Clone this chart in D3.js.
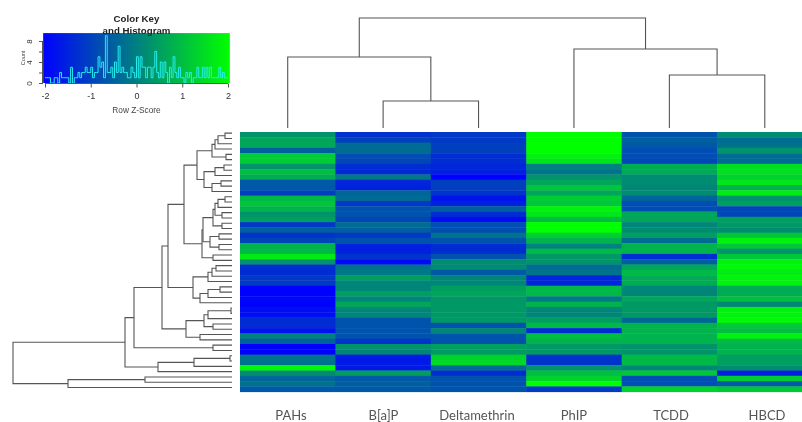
<!DOCTYPE html>
<html><head><meta charset="utf-8">
<script src="https://cdn.jsdelivr.net/npm/d3@7"></script>
<style>
html,body{margin:0;padding:0;background:#fff;overflow:hidden}
svg{display:block;filter:blur(0.4px)}
</style></head><body>
<svg id="c" width="802" height="422"></svg>
<script>
const samples = ["PAHs","B[a]P","Deltamethrin","PhIP","TCDD","HBCD"];
const PAHs = [0.3,0.6,0.6,-0.5,1.2,1.2,0.3,1.0,0.7,-0.6,-0.6,-1.0,0.9,1.1,0.8,0.3,0.5,-1.1,-0.5,-1.2,-0.9,0.8,0.9,1.7,0.3,-1.3,-1.3,-1.1,-1.1,-2,-2,-1.9,-2,-1.8,-1.8,-1.3,-1.3,-1.7,0,-0.5,-2,-2,-0.2,-0.2,1.9,0.2,-0.4,-0.2,-0.6];
const BaP = [-1.2,-1.0,-0.3,-0.3,-0.8,-0.9,-1.3,-1.4,-0.1,-1.4,-1.5,-0.4,-0.3,-1.1,-0.7,-0.7,-0.9,-0.3,-0.5,-1.1,-0.7,-1.5,-1.5,-1.2,-1.9,-0.2,-0.1,0.5,0.1,0.1,0.5,0.1,0.6,0.1,0.1,-0.7,-0.7,-0.7,-0.7,-1.2,0.3,0.1,-1.6,-1.6,-1.6,0.5,-0.6,-0.5,-0.6];
const Deltamethrin = [-1.1,-1.1,-1.0,-1.0,-1.3,-1.3,-1.4,-1.5,-2,-1.0,-1.0,-1.2,-1.7,-1.5,-0.5,-1.3,-1.8,-0.8,-0.8,-0.2,-0.7,-1.3,-1.3,-0.7,0.2,0.2,-0.6,0.1,0.1,0.5,0.6,0.4,0.4,0.4,0.4,0.4,-0.7,0.1,-0.7,-0.7,0.5,0.4,1.3,1.4,-0.3,-1.3,-0.7,-0.7,-0.7];
const PhIP = [2,2,2,2,1.8,1.6,0,-0.2,0.3,0.6,1.1,0.6,1.2,1.1,1.8,1.6,1.0,2,2,1.2,0.8,0,0.9,0.4,0.3,-0.3,-0.2,-1.4,-1.4,0.9,0.9,-0.1,0.8,0.1,0.1,0.5,0.9,-1.3,1,0.8,0.4,0.4,-1.2,-1.2,0.3,1.0,1.3,2,-1.1];
const TCDD = [-0.7,-0.5,-0.6,-0.8,-0.8,-0.9,0.7,0.7,0.2,0.2,0.1,0.2,-0.4,-0.8,-0.8,0.6,0.6,0.1,0.2,0.5,-0.3,0.8,0.8,-1.3,-0.5,0.6,0.9,0.7,0.7,0.1,0.1,0.6,0.4,0.4,0.4,-0.4,0.8,0.8,0.8,0.8,0.3,0.3,0.9,0.9,0.1,1.1,-0.8,-0.8,1.3];
const HBCD = [0.2,-0.3,-0.2,0.3,-0.3,-0.3,1.5,1.5,1.3,1.6,0.8,1.7,0.3,0.5,-0.9,-0.9,0.5,0.4,0.2,1.1,1.8,1.1,0.3,1.1,1.8,1.9,1.7,1.8,1.8,0.7,0.7,1.0,0.1,1.8,1.8,1.9,1.1,1.0,1.8,0.9,0.8,0.8,0.5,0.5,0.2,-1.5,1.2,-0.6,1.1];
const histCounts = [1,1,1,0,0,1,1,0,2,1,1,1,1,0,3,0,1,1,2,1,2,2,3,2,2,3,1,2,2,5,3,4,1,9,2,2,3,1,4,2,7,2,3,2,2,1,1,3,2,1,5,1,5,3,3,1,3,3,1,3,6,2,1,4,1,4,2,0,3,1,5,2,1,3,1,1,0,2,1,2,0,1,1,3,1,1,3,1,3,1,3,1,1,1,1,3,1,2,1,1];
const colTree = [1.10,[0.71,0,[0.27,1,2]],[0.79,3,[0.53,4,5]]];
const rowTree = [21.9,
 [10.7,
  [9.8,
   [7.0,
    [6.4,
     [4.8,
      [3.5,
       [2.0,[1.7,[1.4,[0.7,0,1],2],3],[0.6,4,5]],
       [2.8,[1.7,[0.8,6,7],8],[2.0,[1.1,9,10],11]]],
      [3.0,
       [2.9,
        [1.9,[1.7,[1.4,[0.7,12,13],14],[1.0,15,16]],[1.0,17,18]],
        [2.2,[1.3,19,20],[1.3,21,22]]],
       [1.9,23,24]]],
     [3.9,
      [2.4,[2.0,[1.6,25,26],27],28],
      [3.2,[2.4,[1.2,29,30],31],32]]],
    [4.6,
     [2.8,[2.4,[0.1,33,34],35],[1.9,36,37]],
     [3.2,38,39]]],
   [1.9,40,41]],
  [7.4,[3.8,[0.2,42,43],44],45]],
 [16.4,[8.7,46,47],48]];
const keyTicksX = [-2,-1,0,1,2];
const keyTicksY = [0,2,4,6,8];
const keyLabelsY = [0,4,8];

const matrix = [PAHs,BaP,Deltamethrin,PhIP,TCDD,HBCD];
const nRows = PAHs.length;
const svg = d3.select("#c");
const color = d3.scaleLinear().domain([-2,2]).range(["#0000ff","#00ff00"]).interpolate(d3.interpolateRgb).clamp(true);

// heatmap
const xBand = d3.scaleBand().domain(d3.range(samples.length)).range([240,812.5]);
const yBand = d3.scaleBand().domain(d3.range(nRows)).range([132,391.7]);
const heat = svg.append("g");
matrix.forEach((col,c)=>{
  heat.selectAll(null).data(col).enter().append("rect")
    .attr("x",xBand(c)).attr("width",Math.ceil(xBand.bandwidth()))
    .attr("y",(d,r)=>yBand(r)).attr("height",yBand.bandwidth()+0.4)
    .attr("fill",d=>color(d));
});

// column labels
svg.append("g").selectAll("text").data(samples).enter().append("text")
  .attr("x",(d,i)=>[291,383.5,477,574,671,767][i]).attr("y",419.5)
  .attr("text-anchor","middle").attr("font-family","Lato, 'Open Sans', sans-serif")
  .attr("font-size",13).attr("fill","#555").text(d=>d);

// dendrograms
function hierarchy(t){
  return d3.hierarchy(t,d=>Array.isArray(d)?d.slice(1):null);
}
function drawDendro(tree,leafPos,heightPos,horizontal){
  const root = hierarchy(tree);
  root.eachAfter(n=>{
    n.pos = n.children? d3.mean(n.children,c=>c.pos) : leafPos(n.data);
    n.h = n.children? n.data[0] : 0;
  });
  const g = svg.append("g").attr("fill","none").attr("stroke","#555").attr("stroke-width",1.1);
  const nodes = root.descendants().filter(n=>n.children);
  g.selectAll("path").data(nodes).enter().append("path").attr("d",n=>{
    const a=n.children[0], b=n.children[1];
    const H=heightPos(n.h), Ha=heightPos(a.h), Hb=heightPos(b.h);
    return horizontal
      ? `M${Ha},${a.pos}H${H}V${b.pos}H${Hb}`
      : `M${a.pos},${Ha}V${H}H${b.pos}V${Hb}`;
  });
}
const topH = d3.scaleLinear().domain([0,1.10]).range([128,18]);
drawDendro(colTree,i=>xBand(i)+xBand.bandwidth()/2,topH,false);
const leftH = d3.scaleLinear().domain([0,21.9]).range([232,13]);
drawDendro(rowTree,i=>yBand(i)+yBand.bandwidth()/2-1.5,leftH,true);

// colour key
const keyX = d3.scaleLinear().domain([-2,2]).range([45,228]);
const keyY = d3.scaleLinear().domain([0,9.5]).range([83,33.1]);
const defs = svg.append("defs");
const grad = defs.append("linearGradient").attr("id","k");
grad.selectAll("stop").data(d3.range(-2,2.01,0.5)).enter().append("stop")
  .attr("offset",d=>(d+2)/4).attr("stop-color",d=>color(d));
svg.append("rect").attr("x",keyX(-2.04)).attr("width",keyX(2.04)-keyX(-2.04))
  .attr("y",keyY(9.5)).attr("height",keyY(0)-keyY(9.5)).attr("fill","url(#k)");
const binW = 4/histCounts.length;
const stepData = histCounts.map((c,i)=>[-2+i*binW,c]).concat([[2,histCounts[histCounts.length-1]]]);
svg.append("path").datum(stepData).attr("fill","none").attr("stroke","#22eeee").attr("stroke-width",1)
  .attr("d",d3.line().x(d=>keyX(d[0])).y(d=>keyY(d[1])).curve(d3.curveStepAfter));

const font="Liberation Sans, Arial, sans-serif";
const axX = svg.append("g").attr("transform","translate(0,83.5)")
  .call(d3.axisBottom(keyX).tickValues(keyTicksX).tickSize(4).tickPadding(5).tickFormat(d=>String(d)));
axX.selectAll("text").attr("font-family",font).attr("font-size",9).attr("fill","#333");
const axY = svg.append("g").attr("transform","translate(43,0)")
  .call(d3.axisLeft(keyY).tickValues(keyTicksY).tickSize(4).tickFormat(d=>keyLabelsY.includes(d)?d:""));
axY.select(".domain").attr("d",`M-0.5,${keyY(0)}V${keyY(8)}`);
axX.select(".domain").attr("d",`M${keyX(-2)},0H${keyX(2)}`);
axY.selectAll(".tick text").attr("font-family",font).attr("font-size",8).attr("fill","#333")
  .attr("text-anchor","middle").attr("dy",0).attr("x",0).attr("y",0)
  .attr("transform","translate(-11,0) rotate(-90)");
axX.selectAll("line,path").attr("stroke","#555");
axY.selectAll("line,path").attr("stroke","#555");

svg.append("text").attr("x",136.5).attr("y",22).attr("text-anchor","middle").attr("font-family",font).attr("font-weight","bold").attr("font-size",9.7).attr("fill","#222").text("Color Key");
svg.append("text").attr("x",136.5).attr("y",33.5).attr("text-anchor","middle").attr("font-family",font).attr("font-weight","bold").attr("font-size",9.7).attr("fill","#222").text("and Histogram");
svg.append("text").attr("x",136.5).attr("y",113).attr("text-anchor","middle").attr("font-family",font).attr("font-size",8.3).attr("fill","#444").text("Row Z-Score");
svg.append("text").attr("transform","translate(24.5,58) rotate(-90)").attr("text-anchor","middle").attr("font-family",font).attr("font-size",5.5).attr("fill","#444").text("Count");
</script>
</body></html>
